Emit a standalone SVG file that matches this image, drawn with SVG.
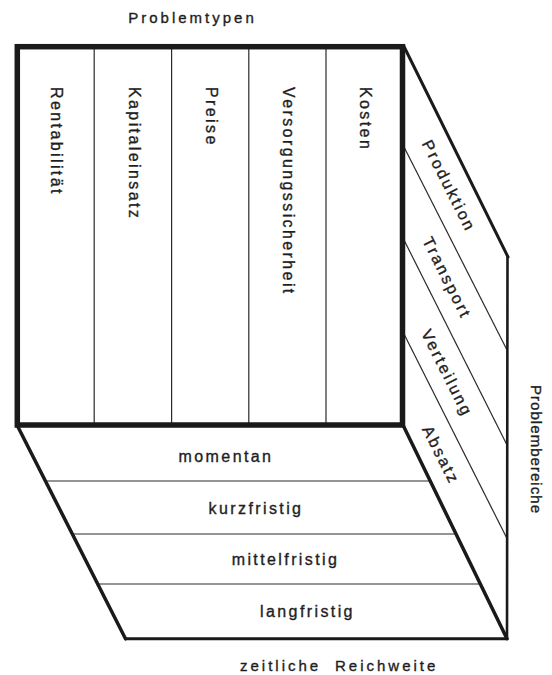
<svg xmlns="http://www.w3.org/2000/svg" width="552" height="675" viewBox="0 0 552 675">
<style>
.thin{stroke:#2a2a2a;stroke-width:1.2;fill:none}
.thick{stroke:#1a1a1a;fill:none;stroke-linecap:round;stroke-linejoin:miter}
text{font-family:"Liberation Sans",Arial,sans-serif;font-size:16px;fill:#1e1e1e;stroke:#1e1e1e;stroke-width:0.35px;letter-spacing:2.4px}
.title{font-size:15px;letter-spacing:3px}
</style>
<rect width="552" height="675" fill="#fff"/>
<g id="bottom-face">
  <line class="thin" x1="45.3" y1="481" x2="430.2" y2="481"/>
  <line class="thin" x1="72" y1="534" x2="455.9" y2="534"/>
  <line class="thin" x1="97.3" y1="584" x2="480.1" y2="584"/>
  <line class="thick" x1="17" y1="425" x2="125.5" y2="638.8" stroke-width="3.5"/>
  <line class="thick" x1="125.5" y1="638.8" x2="507" y2="638.8" stroke-width="3"/>
  <text x="226" y="462" text-anchor="middle">momentan</text>
  <text x="256" y="514" text-anchor="middle">kurzfristig</text>
  <text x="285.5" y="565" text-anchor="middle">mittelfristig</text>
  <text x="307.5" y="617" text-anchor="middle">langfristig</text>
</g>
<g id="right-face">
  <line class="thin" x1="403" y1="145" x2="507" y2="350"/>
  <line class="thin" x1="403" y1="238" x2="507" y2="445"/>
  <line class="thin" x1="403" y1="332" x2="507" y2="538.5"/>
  <line class="thick" x1="404" y1="46.5" x2="508" y2="257" stroke-width="3"/>
  <line class="thick" x1="507.5" y1="257" x2="507" y2="638.8" stroke-width="2.6"/>
  <line class="thick" x1="403" y1="425" x2="507" y2="638.8" stroke-width="3.5"/>
  <text transform="translate(449,186) rotate(63.3)" y="5.5" text-anchor="middle">Produktion</text>
  <text transform="translate(447,278) rotate(63.3)" y="5.5" text-anchor="middle">Transport</text>
  <text transform="translate(447,373) rotate(63.3)" y="5.5" text-anchor="middle">Verteilung</text>
  <text transform="translate(441,455) rotate(63.3)" y="5.5" text-anchor="middle">Absatz</text>
</g>
<g id="front-face">
  <rect x="17" y="46.5" width="385.5" height="378.5" fill="#fff"/>
  <line class="thin" x1="94.2" y1="46" x2="94.2" y2="425"/>
  <line class="thin" x1="171.6" y1="46" x2="171.6" y2="425"/>
  <line class="thin" x1="248.8" y1="46" x2="248.8" y2="425"/>
  <line class="thin" x1="326" y1="46" x2="326" y2="425"/>
  <rect class="thick" x="17.3" y="46.7" width="385.2" height="378.3" stroke-width="5.5"/>
  <text transform="translate(57,87) rotate(90)" y="5.7">Rentabilität</text>
  <text transform="translate(134.5,87) rotate(90)" y="5.7">Kapitaleinsatz</text>
  <text transform="translate(212,87) rotate(90)" y="5.7">Preise</text>
  <text transform="translate(289,87) rotate(90)" y="5.7">Versorgungssicherheit</text>
  <text transform="translate(366,87) rotate(90)" y="5.7">Kosten</text>
</g>
<g id="axis-labels">
  <text class="title" x="192.5" y="23" text-anchor="middle">Problemtypen</text>
  <text class="title" transform="translate(536.5,385) rotate(90)" y="5.5" textLength="128" lengthAdjust="spacing" style="letter-spacing:0">Problembereiche</text>
  <text class="title" x="240" y="671">zeitliche<tspan x="335">Reichweite</tspan></text>
</g>
</svg>
